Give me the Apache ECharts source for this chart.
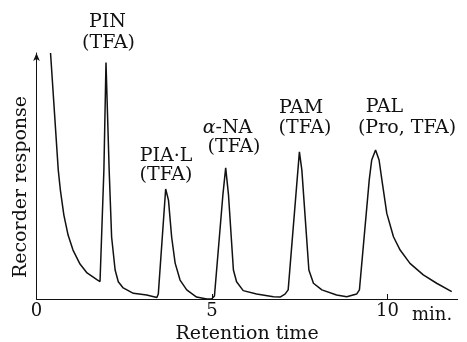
<!DOCTYPE html>
<html>
<head>
<meta charset="utf-8">
<script src="https://cdn.jsdelivr.net/npm/echarts@6/dist/echarts.min.js"></script>
<style>
html,body{margin:0;padding:0;background:#fff;}
#chart{width:467px;height:342px;}
</style>
</head>
<body>
<div id="chart"></div>
<script>
// Retention time (min) and recorder response (relative units)
const retentionTime = [0.40,0.62,0.68,0.78,0.90,1.04,1.24,1.44,1.72,1.81,1.86,1.92,1.98,2.07,2.14,2.24,2.33,2.47,2.76,3.14,3.43,
  3.47,3.68,3.76,3.85,3.95,4.09,4.28,4.56,4.85,4.99,5.07,5.31,5.39,5.47,5.61,5.70,5.89,6.27,6.75,6.94,7.08,
  7.17,7.49,7.56,7.76,7.89,8.13,8.55,8.84,9.12,9.20,9.48,9.55,9.66,9.76,9.84,9.98,10.17,10.36,10.64,11.02,11.40,11.83];
const response = [100,52.4,44.3,34.1,26.0,19.9,14.2,10.6,7.9,7.1,7.3,52.4,96.1,52.4,25.2,11.8,7.0,4.5,2.3,1.6,0.6,
  2.0,44.7,40.2,25.2,14.6,7.7,3.7,0.8,0,0,1.2,42.3,53.3,42.3,11.8,7.0,3.4,2.0,0.9,0.8,2.0,
  3.7,59.8,52.4,11.8,6.4,3.7,1.6,0.9,2.0,3.7,48.4,56.5,60.6,56.5,48.4,34.8,25.3,19.9,14.5,9.8,6.4,3.0];
const xLabelValues = [0, 5, 10];
const xTickValues = [5, 10];
const xUnit = 'min.';
const xTitle = 'Retention time';
const yTitle = 'Recorder response';
// peak annotations: [name line, second line]
const peakNames = ['PIN', 'PIA·L', '{i|α}-NA', 'PAM', 'PAL'];
const peakSub = ['(TFA)', '(TFA)', '(TFA)', '(TFA)', '(Pro, TFA)'];

const font = 'DejaVu Serif';
const textColor = '#111';
// label layout in pixels: [nameX, nameY, subX, subY]
const labelPos = [
  [107.5, 22, 108.5, 43],
  [166, 156, 166, 175],
  [227.5, 128, 234, 147],
  [301, 108, 305, 128],
  [384.5, 107, 407, 128]
];

const graphics = [];
peakNames.forEach((n, i) => {
  const p = labelPos[i];
  graphics.push({type: 'text', x: p[0], y: p[1], style: {
    text: n, font: '19px "' + font + '"', fill: textColor, align: 'center', verticalAlign: 'middle',
    rich: {i: {fontStyle: 'italic', fontFamily: font, fontSize: 19, fill: textColor}}
  }});
  graphics.push({type: 'text', x: p[2], y: p[3], style: {
    text: peakSub[i], font: '19px "' + font + '"', fill: textColor, align: 'center', verticalAlign: 'middle'
  }});
});
graphics.push({type: 'text', x: 412, y: 315, style: {
  text: xUnit, font: '18px "' + font + '"', fill: textColor, align: 'left', verticalAlign: 'middle'
}});
graphics.push({type: 'text', x: 21, y: 187, rotation: Math.PI / 2, style: {
  text: yTitle, font: '19px "' + font + '"', fill: textColor, align: 'center', verticalAlign: 'middle'
}});

const chart = echarts.init(document.getElementById('chart'), null, {renderer: 'canvas'});
chart.setOption({
  animation: false,
  backgroundColor: '#fff',
  grid: {left: 36.5, right: 9.3, top: 53, bottom: 43, containLabel: false, outerBoundsMode: 'none'},
  xAxis: {
    type: 'value', min: 0, max: 12, interval: 5,
    name: xTitle, nameLocation: 'middle', nameGap: 24,
    nameTextStyle: {fontFamily: font, fontSize: 19, color: textColor},
    axisLine: {lineStyle: {color: '#111', width: 1}},
    axisTick: {show: true, inside: true, length: 5, customValues: xTickValues, lineStyle: {color: '#111'}},
    axisLabel: {customValues: xLabelValues, fontFamily: font, fontSize: 18, color: textColor, margin: 3,
      formatter: v => String(v)},
    splitLine: {show: false}
  },
  yAxis: {
    type: 'value', min: 0, max: 100,
    axisLine: {show: true, symbol: ['none', 'arrow'], symbolSize: [5, 8], lineStyle: {color: '#111', width: 1}},
    axisTick: {show: false},
    axisLabel: {show: false},
    splitLine: {show: false}
  },
  graphic: graphics,
  series: [{
    type: 'line',
    data: retentionTime.map((t, i) => [t, response[i]]),
    showSymbol: false,
    smooth: false,
    lineStyle: {color: '#111', width: 1.5},
    clip: false
  }]
});
</script>
</body>
</html>
